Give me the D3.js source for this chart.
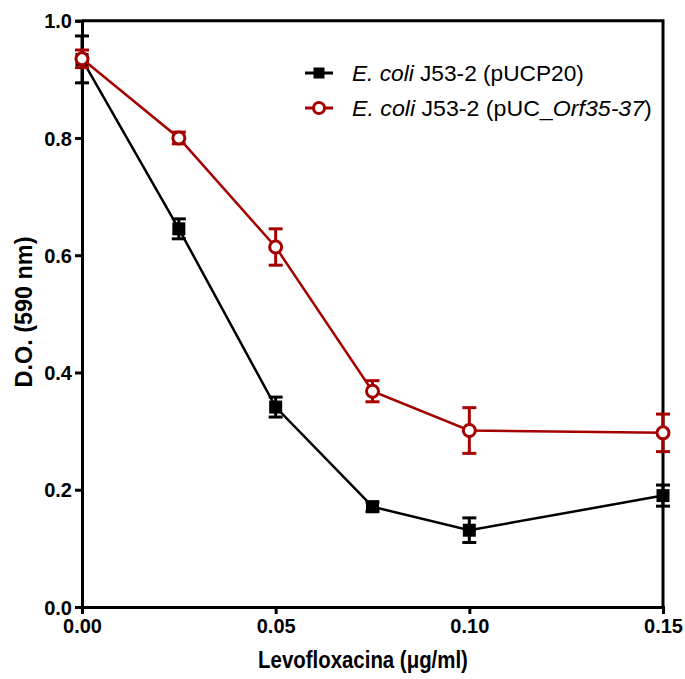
<!DOCTYPE html>
<html>
<head>
<meta charset="utf-8">
<script src="https://cdn.jsdelivr.net/npm/d3@7"></script>
<style>
  html, body { margin: 0; padding: 0; background: #fff; }
  svg { display: block; font-family: "Liberation Sans", Arial, sans-serif; }
</style>
</head>
<body>
<svg id="chart" width="685" height="679"></svg>
<script>
// Levofloxacin concentrations (µg/ml)
const concentrations = [0, 0.025, 0.05, 0.075, 0.10, 0.15];

// Optical density at 590 nm, mean and error per concentration
const controlMean = [0.934, 0.645, 0.341, 0.171, 0.131, 0.190];
const controlErr  = [0.040, 0.017, 0.017, 0.008, 0.021, 0.018];
const orfMean     = [0.935, 0.800, 0.614, 0.368, 0.301, 0.297];
const orfErr      = [0.015, 0.010, 0.031, 0.018, 0.039, 0.032];

const xTicks = [0, 0.05, 0.10, 0.15];
const yTicks = [0, 0.2, 0.4, 0.6, 0.8, 1.0];

const RED = "#a50000";
const svg = d3.select("#chart");

const x = d3.scaleLinear().domain([0, 0.15]).range([82, 663]);
const y = d3.scaleLinear().domain([0, 1]).range([607, 20.7]);

// Frame: top and right borders
svg.append("path")
  .attr("d", `M${x(0)},${y(1)}H${x(0.15)}V${y(0)}`)
  .attr("fill", "none").attr("stroke", "#000").attr("stroke-width", 3);

// Axes
const xAxis = svg.append("g").attr("transform", `translate(0,${y(0)})`)
  .call(d3.axisBottom(x).tickValues(xTicks).tickFormat(d3.format(".2f")).tickSize(7).tickPadding(5));
const yAxis = svg.append("g").attr("transform", `translate(${x(0)},0)`)
  .call(d3.axisLeft(y).tickValues(yTicks).tickFormat(d3.format(".1f")).tickSize(7).tickPadding(3));

[xAxis, yAxis].forEach(g => {
  g.select(".domain").attr("stroke-width", 3).attr("stroke", "#000");
  g.selectAll(".tick line").attr("stroke-width", 3).attr("stroke", "#000");
  g.selectAll(".tick text")
    .attr("font-family", "Liberation Sans, Arial, sans-serif")
    .attr("font-size", 20).attr("font-weight", "bold").attr("fill", "#000");
});
yAxis.selectAll(".tick text").attr("dy", "0.36em");

// Fit a text element horizontally into a given width
function fitWidth(sel, cx, cy, width, rotate) {
  const node = sel.node();
  const len = node.getComputedTextLength();
  const s = width / len;
  sel.attr("transform", `translate(${cx},${cy})${rotate ? " rotate(" + rotate + ")" : ""} scale(${s},1)`);
}

// Axis titles
const xTitle = svg.append("text")
  .attr("text-anchor", "middle").attr("font-size", 24).attr("font-weight", "bold")
  .text("Levofloxacina (\u03bcg/ml)");
fitWidth(xTitle, 363, 668, 210);

const yTitle = svg.append("text")
  .attr("text-anchor", "middle").attr("font-size", 23).attr("font-weight", "bold")
  .text("D.O. (590 nm)");
fitWidth(yTitle, 32, 312, 151, -90);

// Series
const series = [
  { mean: controlMean, err: controlErr, color: "#000", marker: "square" },
  { mean: orfMean, err: orfErr, color: RED, marker: "circle" }
];

const line = d3.line().x(d => x(d[0])).y(d => y(d[1]));

series.forEach(s => {
  const pts = concentrations.map((c, i) => [c, s.mean[i], s.err[i]]);
  const g = svg.append("g");
  g.append("path").datum(pts).attr("d", line)
    .attr("fill", "none").attr("stroke", s.color).attr("stroke-width", 2.5);

  // error bars with caps
  const eb = g.selectAll(".eb").data(pts).join("g");
  eb.append("line")
    .attr("x1", d => x(d[0])).attr("x2", d => x(d[0]))
    .attr("y1", d => y(d[1] + d[2])).attr("y2", d => y(d[1] - d[2]))
    .attr("stroke", s.color).attr("stroke-width", 3);
  [1, -1].forEach(sign => {
    eb.append("line")
      .attr("x1", d => x(d[0]) - 7).attr("x2", d => x(d[0]) + 7)
      .attr("y1", d => y(d[1] + sign * d[2])).attr("y2", d => y(d[1] + sign * d[2]))
      .attr("stroke", s.color).attr("stroke-width", 3);
  });

  if (s.marker === "square") {
    g.selectAll(".m").data(pts).join("rect")
      .attr("x", d => x(d[0]) - 6.5).attr("y", d => y(d[1]) - 6.5)
      .attr("width", 13).attr("height", 13).attr("fill", s.color);
  } else {
    g.selectAll(".m").data(pts).join("circle")
      .attr("cx", d => x(d[0])).attr("cy", d => y(d[1])).attr("r", 6)
      .attr("fill", "#fff").attr("stroke", s.color).attr("stroke-width", 3);
  }
});

// Legend
const legend = svg.append("g");
const legendRows = [
  { color: "#000", marker: "square", parts: [["E. coli", true], [" J53-2 (pUCP20)", false]], width: 232 },
  { color: RED, marker: "circle", parts: [["E. coli", true], [" J53-2 (pUC_", false], ["Orf35-37", true], [")", false]], width: 300 }
];
legendRows.forEach((r, i) => {
  const cy = 73 + i * 35;
  legend.append("line").attr("x1", 305).attr("x2", 333).attr("y1", cy).attr("y2", cy)
    .attr("stroke", r.color).attr("stroke-width", 3);
  if (r.marker === "square") {
    legend.append("rect").attr("x", 313.5).attr("y", cy - 5.5).attr("width", 11).attr("height", 11).attr("fill", r.color);
  } else {
    legend.append("circle").attr("cx", 319).attr("cy", cy).attr("r", 5.5)
      .attr("fill", "#fff").attr("stroke", r.color).attr("stroke-width", 3);
  }
  const t = legend.append("text").attr("font-size", 22).attr("fill", "#000");
  r.parts.forEach(p => {
    t.append("tspan").attr("font-style", p[1] ? "italic" : "normal").text(p[0]);
  });
  const len = t.node().getComputedTextLength();
  t.attr("transform", `translate(352,${cy + 8}) scale(${r.width / len},1)`);
});
</script>
</body>
</html>
